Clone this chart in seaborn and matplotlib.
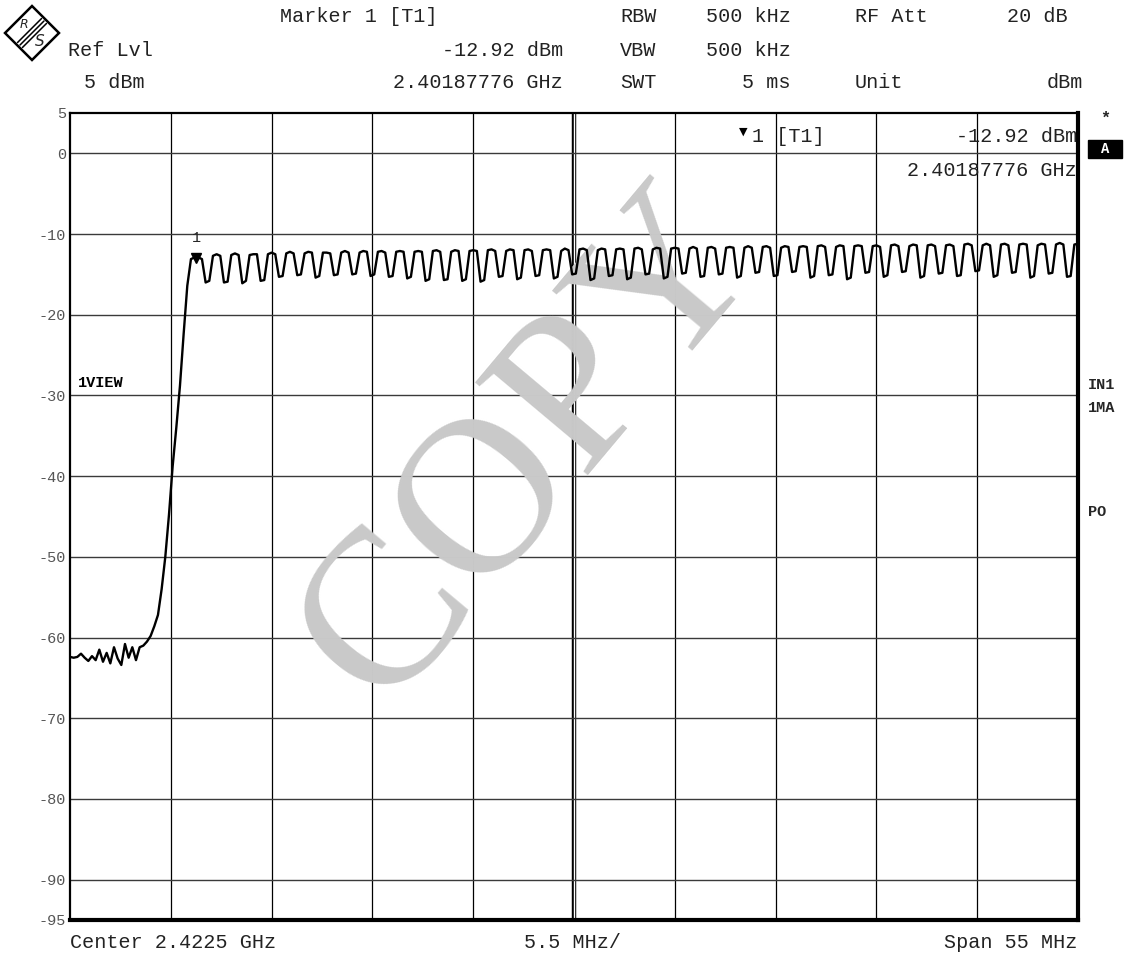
import numpy as np
import pandas as pd
import matplotlib.pyplot as plt
import matplotlib.patches as patches
import seaborn as sns

# sweep settings from the analyzer header
start_ghz = 2.395
stop_ghz = 2.450
step_mhz = 0.2
y_ticks = [5, 0, -10, -20, -30, -40, -50, -60, -70, -80, -90, -95]
y_grid = [0, -10, -20, -30, -40, -50, -60, -70, -80, -90]
x_divs = 10

marker_ghz = 2.40187776
marker_dbm = -12.92

# noise floor and band edge, one point every 0.2 MHz from 2.395 GHz
edge_dbm = [-62.4, -62.5, -62.4, -62.0, -62.5, -62.9, -62.3, -62.8, -61.5, -63.0,
            -61.9, -63.2, -61.2, -62.6, -63.4, -60.8, -62.5, -61.2, -62.8, -61.2,
            -61.0, -60.5, -59.8, -58.6, -57.2, -54.0, -50.0, -44.8, -38.8, -34.0,
            -28.8, -22.4, -16.4, -13.1, -12.9, -12.9, -13.1]

# in-band ripple, one row per ~1 MHz cycle (dip bottom first), same 0.2 MHz step
ripple_dbm = [
    [-16.0, -15.8, -12.7, -12.5, -12.7], [-16.0, -15.9, -12.6, -12.4, -12.6],
    [-16.1, -15.8, -12.6, -12.5, -12.5], [-15.8, -15.7, -12.5, -12.3, -12.5],
    [-15.3, -15.2, -12.4, -12.2, -12.4], [-15.1, -15.0, -12.4, -12.2, -12.3],
    [-15.4, -15.2, -12.3, -12.3, -12.4], [-15.1, -15.0, -12.3, -12.1, -12.3],
    [-15.0, -14.9, -12.3, -12.1, -12.2], [-15.2, -15.0, -12.2, -12.1, -12.3],
    [-15.3, -15.2, -12.2, -12.1, -12.2], [-15.5, -15.3, -12.2, -12.1, -12.2],
    [-15.8, -15.6, -12.1, -12.0, -12.2], [-15.7, -15.6, -12.2, -12.0, -12.1],
    [-15.8, -15.6, -12.1, -12.0, -12.1], [-15.9, -15.7, -12.0, -11.9, -12.1],
    [-15.3, -15.2, -12.1, -11.9, -12.0], [-15.6, -15.4, -12.0, -11.9, -12.1],
    [-15.2, -15.1, -12.0, -11.9, -12.0], [-15.5, -15.3, -12.1, -11.8, -12.0],
    [-15.0, -14.9, -11.9, -11.8, -12.0], [-15.7, -15.5, -12.0, -11.8, -11.9],
    [-15.2, -15.1, -11.9, -11.8, -11.9], [-15.6, -15.4, -11.8, -11.7, -11.9],
    [-15.0, -14.9, -11.9, -11.7, -11.8], [-15.5, -15.3, -11.8, -11.7, -11.8],
    [-14.9, -14.8, -11.8, -11.6, -11.8], [-15.3, -15.2, -11.7, -11.6, -11.8],
    [-15.0, -14.9, -11.7, -11.6, -11.7], [-15.4, -15.2, -11.7, -11.5, -11.7],
    [-14.8, -14.7, -11.6, -11.5, -11.7], [-15.2, -15.1, -11.7, -11.5, -11.6],
    [-14.7, -14.6, -11.6, -11.5, -11.6], [-15.4, -15.2, -11.5, -11.4, -11.6],
    [-15.1, -15.0, -11.6, -11.4, -11.5], [-15.6, -15.4, -11.5, -11.4, -11.5],
    [-14.8, -14.7, -11.5, -11.4, -11.6], [-15.3, -15.1, -11.4, -11.3, -11.5],
    [-14.7, -14.6, -11.5, -11.3, -11.4], [-15.4, -15.2, -11.4, -11.3, -11.5],
    [-14.9, -14.8, -11.4, -11.3, -11.5], [-15.2, -15.1, -11.3, -11.2, -11.4],
    [-14.6, -14.5, -11.4, -11.2, -11.4], [-15.3, -15.1, -11.3, -11.2, -11.4],
    [-14.8, -14.7, -11.3, -11.2, -11.3], [-15.4, -15.2, -11.4, -11.2, -11.3],
    [-14.9, -14.8, -11.3, -11.1, -11.3], [-15.3, -15.2, -11.3, -11.2],
]

level = edge_dbm + [v for row in ripple_dbm for v in row]
freq = start_ghz + np.arange(len(level)) * step_mhz / 1000
df = pd.DataFrame({'freq': freq, 'level': level})

W, H = 1128, 958
mono = ['Liberation Mono', 'DejaVu Sans Mono']
sns.set_style('white')
plt.rcParams['font.family'] = mono


def fx(px):
    return px / W


def fy(py):
    return 1 - py / H


fig = plt.figure(figsize=(W / 100, H / 100), dpi=100)
ax = fig.add_axes([fx(70), fy(920), fx(1078) - fx(70), fy(113) - fy(920)])

# graticule
xg = np.linspace(start_ghz, stop_ghz, x_divs + 1)
for x in xg[1:-1]:
    ax.axvline(x, color='black', lw=0.9, zorder=1)
ax.axvline(xg[5], color='black', lw=3.2, zorder=1)
ax.axvline(xg[5], color='white', lw=1.0, zorder=1)
for y in y_grid:
    ax.axhline(y, color='#3a3a3a', lw=1.0, zorder=1)

# watermark
ax.text(0.458, 0.585, 'COPY', transform=ax.transAxes, rotation=50,
        ha='center', va='center', fontsize=160, color='#c9c9c9',
        family=['Liberation Serif', 'DejaVu Serif'], zorder=2)

sns.lineplot(data=df, x='freq', y='level', ax=ax, color='black', lw=1.7,
             zorder=3, estimator=None)

# marker 1
ax.plot([marker_ghz], [marker_dbm], marker='v', color='black', ms=7, zorder=4)
ax.annotate('1', xy=(marker_ghz, marker_dbm), xytext=(0, 9),
            textcoords='offset points', ha='center', va='bottom', fontsize=11)

ax.set_xlim(start_ghz, stop_ghz)
ax.set_ylim(-95, 5)
ax.set_xticks([])
ax.set_yticks(y_ticks)
ax.set_yticklabels([str(t) for t in y_ticks], color='#555555', fontsize=11)
ax.tick_params(axis='y', length=0, pad=3)
ax.set_xlabel('')
ax.set_ylabel('')
for side in ['top', 'left']:
    ax.spines[side].set_linewidth(1.6)
    ax.spines[side].set_color('black')
for side in ['right', 'bottom']:
    ax.spines[side].set_linewidth(3.0)
    ax.spines[side].set_color('black')

# header block
fs = 14.5
col = '#222222'
fig.text(fx(280), fy(16), 'Marker 1 [T1]', fontsize=fs, va='center', color=col)
fig.text(fx(68), fy(50), 'Ref Lvl', fontsize=fs, va='center', color=col)
fig.text(fx(84), fy(82), '5 dBm', fontsize=fs, va='center', color=col)
fig.text(fx(563), fy(50), '-12.92 dBm', fontsize=fs, va='center', ha='right', color=col)
fig.text(fx(563), fy(82), '2.40187776 GHz', fontsize=fs, va='center', ha='right', color=col)
fig.text(fx(620), fy(16), 'RBW', fontsize=fs, va='center', color=col)
fig.text(fx(620), fy(50), 'VBW', fontsize=fs, va='center', color=col)
fig.text(fx(620), fy(82), 'SWT', fontsize=fs, va='center', color=col)
fig.text(fx(706), fy(16), '500 kHz', fontsize=fs, va='center', color=col)
fig.text(fx(706), fy(50), '500 kHz', fontsize=fs, va='center', color=col)
fig.text(fx(790), fy(82), '5 ms', fontsize=fs, va='center', ha='right', color=col)
fig.text(fx(855), fy(16), 'RF Att', fontsize=fs, va='center', color=col)
fig.text(fx(855), fy(82), 'Unit', fontsize=fs, va='center', color=col)
fig.text(fx(1068), fy(16), '20 dB', fontsize=fs, va='center', ha='right', color=col)
fig.text(fx(1083), fy(82), 'dBm', fontsize=fs, va='center', ha='right', color=col)

# marker readout inside the screen
fig.text(fx(743), fy(132), '\u25bc', fontsize=8, va='center', ha='center', color='black',
         family=['DejaVu Sans'])
fig.text(fx(752), fy(137), '1 [T1]', fontsize=fs, va='center', color=col)
fig.text(fx(1077), fy(137), '-12.92 dBm', fontsize=fs, va='center', ha='right', color=col)
fig.text(fx(1077), fy(170), '2.40187776 GHz', fontsize=fs, va='center', ha='right', color=col)

# side annotations
fig.text(fx(78), fy(383), '1VIEW', fontsize=11, va='center', weight='bold', color='black')
fig.text(fx(1105), fy(118), '*', fontsize=12, va='center', ha='center', weight='bold')
fig.patches.append(patches.Rectangle((fx(1088), fy(158)), fx(34), fy(140) - fy(158),
                                     transform=fig.transFigure, color='black'))
fig.text(fx(1105), fy(149), 'A', fontsize=10, va='center', ha='center', weight='bold',
         color='white')
fig.text(fx(1088), fy(385), 'IN1', fontsize=11, va='center', weight='bold')
fig.text(fx(1088), fy(408), '1MA', fontsize=11, va='center', weight='bold')
fig.text(fx(1088), fy(512), 'PO', fontsize=11, va='center', weight='bold')

# footer
fig.text(fx(70), fy(942), 'Center 2.4225 GHz', fontsize=fs, va='center', color=col)
fig.text(fx(572), fy(942), '5.5 MHz/', fontsize=fs, va='center', ha='center', color=col)
fig.text(fx(1077), fy(942), 'Span 55 MHz', fontsize=fs, va='center', ha='right', color=col)

# R&S logo
cx, cy, r = 32, 33, 27
diamond = patches.Polygon([(fx(cx - r), fy(cy)), (fx(cx), fy(cy - r)),
                           (fx(cx + r), fy(cy)), (fx(cx), fy(cy + r))],
                          closed=True, fill=False, lw=1.8, ec='black',
                          transform=fig.transFigure)
fig.patches.append(diamond)
for off in [-3.5, 0, 3.5]:
    x0, y0 = cx + off * 0.707, cy + off * 0.707
    fig.add_artist(plt.Line2D([fx(x0 - 12), fx(x0 + 12)], [fy(y0 + 12), fy(y0 - 12)],
                              color='black', lw=1.1))
fig.text(fx(cx - 8), fy(cy - 8), 'R', fontsize=9, ha='center', va='center',
         style='italic', family=['DejaVu Sans'])
fig.text(fx(cx + 8), fy(cy + 8), 'S', fontsize=11, ha='center', va='center',
         style='italic', family=['DejaVu Sans'])

fig.savefig('out.png', dpi=100)
